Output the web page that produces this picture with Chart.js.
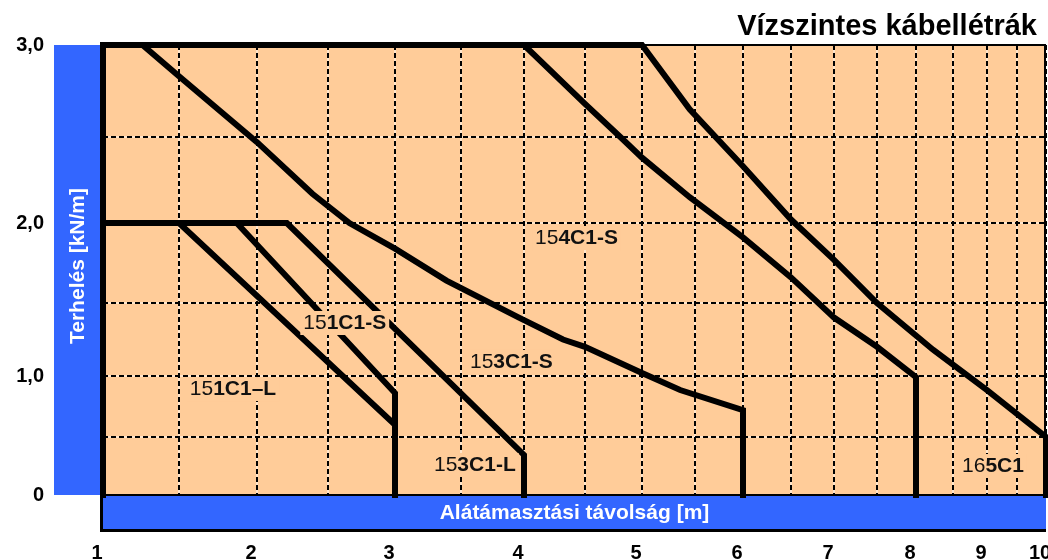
<!DOCTYPE html>
<html>
<head>
<meta charset="utf-8">
<script src="https://cdn.jsdelivr.net/npm/chart.js@4/dist/chart.umd.min.js"></script>
<style>
html,body{margin:0;padding:0;background:#fff}
#wrap{width:1048px;height:560px;position:relative}
</style>
</head>
<body>
<div id="wrap"><canvas id="c"></canvas></div>
<script>
// --- data (x = support distance [m], y = load [kN/m]) ---
var s151L_x = [1, 1.5, 3, 3];
var s151L_y = [2, 2, 0.6, 0];
var s151S_x = [1, 1.87, 3, 3];
var s151S_y = [2, 2, 0.86, 0];
var s153L_x = [1, 2.21, 4, 4];
var s153L_y = [2, 2, 0.345, 0];
var s153S_x = [1, 1.26, 1.5, 2, 2.39, 2.66, 3, 3.39, 3.96, 4.32, 4.5, 5, 5.36, 6, 6];
var s153S_y = [3, 3, 2.83, 2.47, 2.17, 2.0, 1.84, 1.64, 1.40, 1.25, 1.2, 1.02, 0.885, 0.72, 0];
var s154S_x = [1, 4, 4.5, 4.81, 5, 5.45, 6, 6.5, 7, 7.5, 8, 8];
var s154S_y = [3, 3, 2.68, 2.5, 2.38, 2.15, 1.91, 1.66, 1.4, 1.2, 0.99, 0];
var s165_x = [1, 5, 5.45, 6, 6.5, 7, 7.5, 8.23, 9, 10, 10];
var s165_y = [3, 3, 2.65, 2.33, 2.02, 1.77, 1.5, 1.18, 0.885, 0.5, 0];
var axis_x = [1, 1];
var axis_y = [0, 3];

// curve labels: plain prefix + bold rest, anchored in data units
var labelPre  = ['15', '15', '15', '15', '15', '16'];
var labelBold = ['4C1-S', '1C1-S', '3C1-S', '1C1\u2013L', '3C1-L', '5C1'];
var labelX    = [4.43, 2.625, 3.9, 1.846, 3.61, 9.1];
var labelY    = [1.906, 1.363, 1.096, 0.893, 0.259, 0.25];

// non-uniform axes of the original drawing: value -> place along the axis
var xWarpVals = [1,1.5,2,2.5,3,3.5,4,4.5,5,5.5,6,6.5,7,7.5,8,8.5,9,9.5,10];
var xWarpPx   = [103,179,257,328,395,461,524,585,642,695,743,791,834,877,916,953,987,1017,1046];
var yWarpVals = [0,0.5,1,1.5,2,2.5,3];
var yWarpPx   = [495,437,376,303,223,137,45];

var FONT = 'Arial, "Liberation Sans", sans-serif';
var PEACH = '#FFCC99';
var BLUE = '#3366FF';

function fracs(px) {
  var a = px[0], b = px[px.length-1];
  return px.map(function(p){ return (p - a) / (b - a); });
}
var WARPS = {
  x: { v: xWarpVals, f: fracs(xWarpPx) },
  y: { v: yWarpVals, f: fracs(yWarpPx) }
};

function interp(xs, ys, v) {
  var n = xs.length, i = 1;
  if (v <= xs[0]) i = 1;
  else if (v >= xs[n-1]) i = n-1;
  else while (i < n-1 && v > xs[i]) i++;
  var t = (v - xs[i-1]) / (xs[i] - xs[i-1]);
  return ys[i-1] + t * (ys[i] - ys[i-1]);
}

class WarpScale extends Chart.LinearScale {
  getPixelForValue(value) {
    if (value === null || value === undefined) return NaN;
    var w = WARPS[this.axis];
    return this.getPixelForDecimal(interp(w.v, w.f, value));
  }
  getValueForPixel(pixel) {
    var w = WARPS[this.axis];
    return interp(w.f, w.v, this.getDecimalForPixel(pixel));
  }
}
WarpScale.id = 'warp';
WarpScale.defaults = Chart.LinearScale.defaults;
Chart.register(WarpScale);

function pts(xs, ys) {
  return xs.map(function(x, i){ return {x: x, y: ys[i]}; });
}
function series(name, xs, ys) {
  return {
    label: name, data: pts(xs, ys),
    borderColor: '#000', borderWidth: 6, pointRadius: 0, tension: 0,
    borderJoinStyle: 'miter', borderCapStyle: 'square', clip: false, fill: false
  };
}

function drawMixed(ctx, pre, bold, cx, cy) {
  ctx.font = '21px ' + FONT;
  var w1 = ctx.measureText(pre).width;
  ctx.font = 'bold 21px ' + FONT;
  var w2 = ctx.measureText(bold).width;
  var x0 = cx - (w1 + w2) / 2;
  ctx.fillStyle = PEACH;
  ctx.fillRect(x0 - 3, cy - 12, w1 + w2 + 6, 24);
  ctx.fillStyle = '#111';
  ctx.textAlign = 'left';
  ctx.textBaseline = 'middle';
  ctx.font = '21px ' + FONT;
  ctx.fillText(pre, x0, cy);
  ctx.font = 'bold 21px ' + FONT;
  ctx.fillText(bold, x0 + w1, cy);
}

var deco = {
  id: 'deco',
  beforeDraw: function(chart) {
    var ctx = chart.ctx, a = chart.chartArea;
    ctx.save();
    ctx.fillStyle = PEACH;
    ctx.fillRect(a.left, a.top, a.right - a.left, a.bottom - a.top);
    // blue axis bands
    ctx.fillStyle = BLUE;
    ctx.fillRect(a.left - 49, a.top, 46, a.bottom - a.top);
    ctx.fillRect(a.left, a.bottom, a.right - a.left, 34);
    ctx.strokeStyle = '#000';
    ctx.lineWidth = 3;
    ctx.beginPath();
    ctx.moveTo(a.left - 1.5, a.bottom);
    ctx.lineTo(a.left - 1.5, a.bottom + 35.5);
    ctx.lineTo(a.right, a.bottom + 35.5);
    ctx.stroke();
    // white lines under the dashed grid
    ctx.strokeStyle = '#fff';
    ctx.lineWidth = 1;
    var xs = chart.scales.x, ys = chart.scales.y;
    xs.ticks.forEach(function(t){
      var p = Math.round(xs.getPixelForValue(t.value));
      ctx.beginPath(); ctx.moveTo(p, a.top); ctx.lineTo(p, a.bottom); ctx.stroke();
    });
    ys.ticks.forEach(function(t){
      var p = Math.round(ys.getPixelForValue(t.value));
      ctx.beginPath(); ctx.moveTo(a.left, p); ctx.lineTo(a.right, p); ctx.stroke();
    });
    ctx.restore();
  },
  beforeDatasetsDraw: function(chart) {
    var ctx = chart.ctx, a = chart.chartArea;
    ctx.save();
    ctx.strokeStyle = '#000';
    ctx.lineWidth = 2;
    ctx.strokeRect(a.left, a.top, a.right - a.left - 1, a.bottom - a.top);
    ctx.restore();
  },
  afterDatasetsDraw: function(chart) {
    var ctx = chart.ctx, a = chart.chartArea;
    var xs = chart.scales.x, ys = chart.scales.y;
    ctx.save();
    for (var i = 0; i < labelPre.length; i++) {
      drawMixed(ctx, labelPre[i], labelBold[i], xs.getPixelForValue(labelX[i]), ys.getPixelForValue(labelY[i]));
    }
    // axis titles inside the blue bands
    ctx.fillStyle = '#fff';
    ctx.font = 'bold 21px ' + FONT;
    ctx.textAlign = 'center';
    ctx.textBaseline = 'middle';
    ctx.fillText('Alátámasztási távolság [m]', (a.left + a.right) / 2, a.bottom + 18);
    ctx.save();
    ctx.translate(a.left - 25, (a.top + a.bottom) / 2 - 4);
    ctx.rotate(-Math.PI / 2);
    ctx.fillText('Terhelés [kN/m]', 0, 0);
    ctx.restore();
    // title
    ctx.fillStyle = '#000';
    ctx.font = 'bold 29px ' + FONT;
    ctx.textAlign = 'right';
    ctx.textBaseline = 'alphabetic';
    ctx.fillText('Vízszintes kábellétrák', a.right - 9, 35);
    ctx.restore();
  }
};

new Chart(document.getElementById('c'), {
  type: 'line',
  data: {
    datasets: [
      series('axis', axis_x, axis_y),
      series('151C1-L', s151L_x, s151L_y),
      series('151C1-S', s151S_x, s151S_y),
      series('153C1-L', s153L_x, s153L_y),
      series('153C1-S', s153S_x, s153S_y),
      series('154C1-S', s154S_x, s154S_y),
      series('165C1', s165_x, s165_y)
    ]
  },
  options: {
    responsive: true,
    maintainAspectRatio: false,
    devicePixelRatio: 1,
    animation: false,
    layout: { padding: { top: 45, right: 2, left: 0, bottom: 0 } },
    plugins: { legend: { display: false }, tooltip: { enabled: false }, title: { display: false } },
    scales: {
      x: {
        type: 'warp', min: 1, max: 10,
        ticks: {
          stepSize: 0.5, autoSkip: false, maxRotation: 0, minRotation: 0,
          padding: 46, labelOffset: -6, color: '#000',
          font: { family: FONT, size: 20, weight: 'bold' },
          callback: function(v){ return Number.isInteger(v) ? String(v) : ''; }
        },
        grid: { color: '#000', lineWidth: 2, drawTicks: false },
        border: { display: false, dash: [5, 3] },
        afterFit: function(s){ s.height = 65; s.paddingLeft = 0; s.paddingRight = 0; }
      },
      y: {
        type: 'warp', min: 0, max: 3,
        ticks: {
          stepSize: 0.5, padding: 59, color: '#000',
          font: { family: FONT, size: 20, weight: 'bold' },
          callback: function(v){
            if (v === 0) return '0';
            return Number.isInteger(v) ? v.toFixed(1).replace('.', ',') : '';
          }
        },
        grid: { color: '#000', lineWidth: 2, drawTicks: false },
        border: { display: false, dash: [5, 3] },
        afterFit: function(s){ s.width = 103; s.paddingTop = 0; s.paddingBottom = 0; }
      }
    }
  },
  plugins: [deco]
});
</script>
</body>
</html>
